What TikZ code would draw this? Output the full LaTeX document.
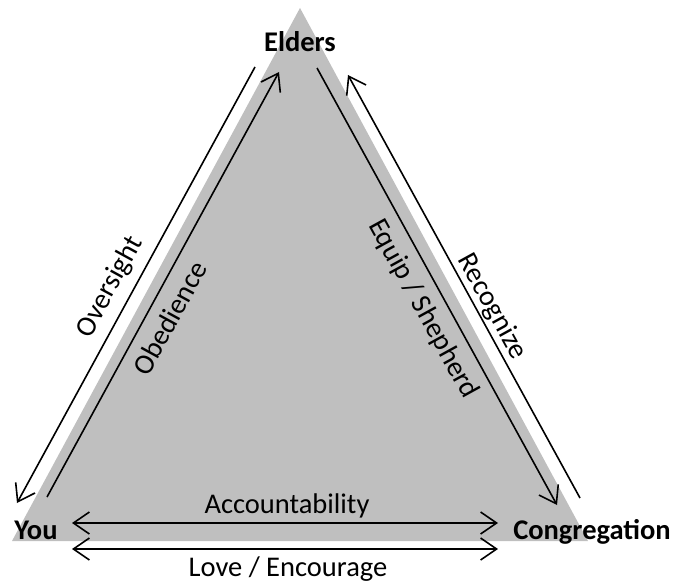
\documentclass[tikz,border=0pt]{standalone}
\usepackage{fontspec}
\setmainfont{Carlito}
\usetikzlibrary{arrows.meta}
\definecolor{trigray}{RGB}{191,191,191}

\begin{document}
\begin{tikzpicture}[x=1pt,y=-1pt,>={Straight Barb[length=16pt,width=22pt]}]
\tikzstyle{corner}=[font=\fontsize{28.5}{34}\selectfont\bfseries,inner sep=0pt,anchor=base]
\tikzstyle{reltext}=[font=\fontsize{28.5}{34}\selectfont,inner sep=0pt]
\tikzstyle{rel}=[line width=1.6pt]
\useasboundingbox (0,0) rectangle (675,583);
\fill[trigray] (12,541) -- (588,541) -- (300,8) -- cycle;
\foreach \name/\point in {
	ovtop/{255,67},
	ovbot/{17,503},
	obbot/{47,497},
	obtop/{279,72},
	eqtop/{317,68},
	eqbot/{557,505},
	retop/{348,75},
	rebot/{580,498},
	acleft/{72,523},
	acright/{498,523},
	loleft/{72,549},
	loright/{498,549}}
	\coordinate (\name) at (\point);
\node[corner] (elders) at (300,52) {Elders};
\node[corner] (you) at (36,539) {You};
\node[corner] (cong) at (592,539) {Congregation};
\draw[rel,->] (ovtop) -- (ovbot);
\draw[rel,->] (obbot) -- (obtop);
\draw[rel,->] (eqtop) -- (eqbot);
\draw[rel,->] (rebot) -- (retop);
\draw[rel,<->] (acleft) -- (acright);
\draw[rel,<->] (loleft) -- (loright);
\node[reltext,rotate=61.3] (oversight) at (110,287) {Oversight};
\node[reltext,rotate=61.3] (obedience) at (170,318) {Obedience};
\node[reltext,rotate=-61.2] (equip) at (423,309) {Equip / Shepherd};
\node[reltext,rotate=-61.2] (recognize) at (492,307) {Recognize};
\node[reltext,anchor=base] (account) at (287,513) {Accountability};
\node[reltext,anchor=base] (love) at (288,576) {Love / Encourage};
\end{tikzpicture}
\end{document}
